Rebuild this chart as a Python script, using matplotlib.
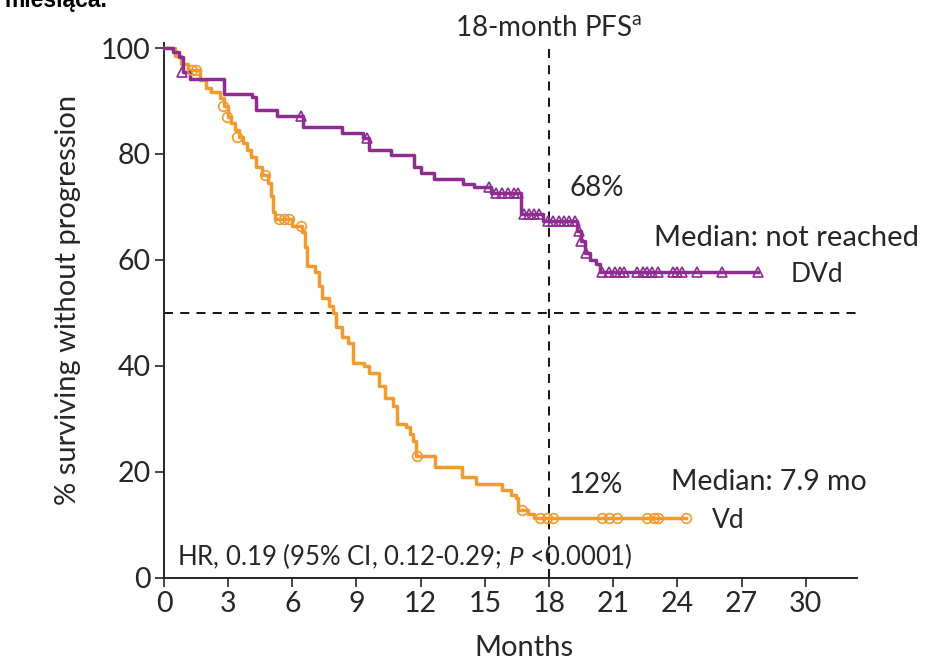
import matplotlib
matplotlib.use("Agg")
import matplotlib.pyplot as plt

plt.rcParams['font.family'] = ['Lato', 'DejaVu Sans']
plt.rcParams['mathtext.fontset'] = 'custom'
plt.rcParams['mathtext.rm'] = 'Lato'
plt.rcParams['mathtext.it'] = 'Lato:italic'

# DVd arm: step times (months) and % progression-free
dvd_t = [0, 0.4, 0.7, 0.9, 1.2, 2.8, 4.1, 4.3, 5.3, 6.5, 8.3, 9.3, 9.6, 10.6,
         11.7, 12.0, 12.6, 14.0, 14.5, 15.3, 16.7, 17.7, 19.3, 19.5, 19.7,
         19.9, 20.2, 20.4, 27.75]
dvd_s = [100, 99.2, 98.3, 95.5, 94.1, 91.3, 90.7, 88.3, 87.2, 85, 84, 83, 80.8,
         79.8, 77.5, 76.4, 75.3, 74.3, 73.7, 72.6, 68.6, 67.3, 65.5, 63.5, 61.3,
         60, 59.2, 57.8, 57.8]
dvd_cens_t = [0.85, 6.4, 9.5, 15.2, 15.5, 15.8, 16.1, 16.35, 16.55, 16.85, 17.05,
              17.3, 17.55, 17.95, 18.2, 18.45, 18.7, 18.95, 19.2, 19.4, 19.5,
              19.75, 20.5, 20.8, 21.1, 21.3, 21.5, 22.1, 22.4, 22.6, 22.8, 23.1,
              23.8, 24.0, 24.2, 24.9, 26.1, 27.75]
dvd_cens_s = [95.5, 87.2, 83, 73.7, 72.6, 72.6, 72.6, 72.6, 72.6, 68.6, 68.6,
              68.6, 68.6, 67.3, 67.3, 67.3, 67.3, 67.3, 67.3, 65.5, 63.5, 61.3,
              57.8, 57.8, 57.8, 57.8, 57.8, 57.8, 57.8, 57.8, 57.8, 57.8, 57.8,
              57.8, 57.8, 57.8, 57.8, 57.8]

# Vd arm
vd_t = [0, 0.5, 0.8, 1.1, 1.7, 1.95, 2.2, 2.6, 2.8, 3.0, 3.15, 3.3, 3.5, 3.7,
        3.9, 4.05, 4.3, 4.6, 4.85, 5.0, 5.1, 5.2, 6.0, 6.45, 6.6, 6.7, 7.05,
        7.25, 7.4, 7.7, 7.9, 8.05, 8.3, 8.6, 8.85, 9.35, 9.6, 10.05, 10.35,
        10.7, 10.9, 11.3, 11.5, 11.65, 11.8, 12.65, 13.95, 14.6, 15.8, 16.2,
        16.45, 16.55, 17.0, 17.3, 24.4]
vd_s = [100, 98.5, 97, 95.8, 94, 92.5, 91.7, 90.5, 89, 87, 85.8, 84.5, 83.2,
        82, 80.8, 79.4, 77.5, 76, 74.5, 72, 69, 67.8, 66.5, 65.2, 62.5, 58.8,
        57.8, 55, 52.8, 51.3, 50, 47.4, 45.5, 44.3, 40.6, 40, 38.6, 36.2, 34,
        32.5, 29, 28.4, 27.2, 25.9, 23, 21, 19.0, 17.7, 16.6, 15.6, 15, 12.8,
        12, 11.3, 11.3]
vd_cens_t = [1.3, 1.5, 2.75, 2.95, 3.4, 4.7, 5.4, 5.6, 5.85, 6.4, 11.85, 16.75,
             17.6, 17.9, 18.2, 20.5, 20.8, 21.2, 22.6, 22.9, 23.1, 24.4]
vd_cens_s = [95.8, 95.8, 89, 87, 83.2, 76, 67.8, 67.8, 67.8, 66.5, 23, 12.8,
             11.3, 11.3, 11.3, 11.3, 11.3, 11.3, 11.3, 11.3, 11.3, 11.3]

xticks = [0, 3, 6, 9, 12, 15, 18, 21, 24, 27, 30]
yticks = [0, 20, 40, 60, 80, 100]

purple = '#8e2c91'
orange = '#f29a2e'
txt = '#262626'

fig = plt.figure(figsize=(9.26, 6.61), dpi=100)
ax = fig.add_axes([0.1771, 0.1256, 0.7484, 0.8098])

ax.step(vd_t, vd_s, where='post', color=orange, lw=2.5, clip_on=False, zorder=3)
ax.plot(vd_cens_t, vd_cens_s, 'o', ms=7, mfc='none', mec=orange, mew=1.2,
        clip_on=False, zorder=4)
ax.step(dvd_t, dvd_s, where='post', color=purple, lw=2.5, clip_on=False, zorder=3)
ax.plot(dvd_cens_t, dvd_cens_s, '^', ms=7.5, mfc='none', mec=purple, mew=1.2,
        clip_on=False, zorder=4)

ax.axhline(50, color='black', lw=1.3, ls=(0, (5, 4)), zorder=2)
ax.plot([18, 18], [0, 101], color='black', lw=1.3, ls=(0, (5, 4)),
        clip_on=False, zorder=2)

ax.set_xlim(0, 32.4)
ax.set_ylim(0, 101)
ax.set_xticks(xticks)
ax.set_yticks(yticks)
ax.tick_params(direction='out', length=6.5, width=1.2, labelsize=20.5,
               colors=txt, pad=3)
for s in ['top', 'right']:
    ax.spines[s].set_visible(False)
for s in ['left', 'bottom']:
    ax.spines[s].set_linewidth(1.4)
    ax.spines[s].set_color(txt)

ax.set_xlabel('Months', fontsize=21, color=txt)
ax.xaxis.set_label_coords(0.52, -0.107)
ax.set_ylabel('% surviving without progression', fontsize=21, color=txt)
ax.yaxis.set_label_coords(-0.12, 0.52)

ax.text(18, 103.8, '18-month PFS$^{\\mathrm{a}}$', fontsize=20, color=txt,
        ha='center', va='center', clip_on=False)
ax.text(18.95, 73.6, '68%', fontsize=20, color=txt, va='center')
ax.text(22.9, 64.2, 'Median: not reached', fontsize=21, color=txt, va='center',
        clip_on=False)
ax.text(29.3, 57.2, 'DVd', fontsize=19, color=txt, va='center', clip_on=False)
ax.text(18.9, 17.5, '12%', fontsize=20, color=txt, va='center')
ax.text(23.7, 18.1, 'Median: 7.9 mo', fontsize=20.5, color=txt, va='center')
ax.text(25.6, 10.8, 'Vd', fontsize=19, color=txt, va='center')
ax.text(0.6, 4.2, 'HR, 0.19 (95% CI, 0.12-0.29; $P$ <0.0001)', fontsize=18.5,
        color=txt, va='center')

# cropped heading from the source page
fig.text(0.005, 0.99, 'miesiąca.', fontsize=16.5, fontweight='bold',
         family='Liberation Sans', va='baseline', ha='left')

fig.savefig('out.png', dpi=100)
